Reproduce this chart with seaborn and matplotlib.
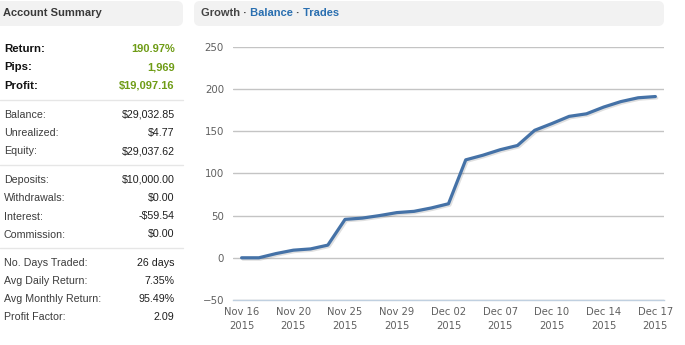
import numpy as np
import pandas as pd
import matplotlib
matplotlib.use("Agg")
import matplotlib.pyplot as plt
import matplotlib.patheffects as pe
from matplotlib.patches import FancyBboxPatch
from matplotlib.lines import Line2D
from matplotlib.transforms import IdentityTransform
import seaborn as sns

# ---- data -------------------------------------------------------------
days = ["Nov 16", "Nov 17", "Nov 19", "Nov 20", "Nov 22", "Nov 23", "Nov 25",
        "Nov 26", "Nov 27", "Nov 29", "Nov 30", "Dec 01", "Dec 02", "Dec 03",
        "Dec 04", "Dec 07", "Dec 08", "Dec 09", "Dec 10", "Dec 11", "Dec 13",
        "Dec 14", "Dec 15", "Dec 16", "Dec 17"]
year = "2015"
growth = [0, 0, 5, 9, 10.5, 15, 45.5, 47, 50, 53.5, 55, 59, 64, 116,
          121.5, 128, 133, 151, 159, 167.5, 170.5, 178.5, 185, 189.5, 190.97]
label_every = 3
y_ticks = [-50, 0, 50, 100, 150, 200, 250]

headline_labels = ["Return:", "Pips:", "Profit:"]
headline_values = ["190.97%", "1,969", "$19,097.16"]
balance_labels = ["Balance:", "Unrealized:", "Equity:"]
balance_values = ["$29,032.85", "$4.77", "$29,037.62"]
cash_labels = ["Deposits:", "Withdrawals:", "Interest:", "Commission:"]
cash_values = ["$10,000.00", "$0.00", "-$59.54", "$0.00"]
stats_labels = ["No. Days Traded:", "Avg Daily Return:", "Avg Monthly Return:", "Profit Factor:"]
stats_values = ["26 days", "7.35%", "95.49%", "2.09"]

df = pd.DataFrame({"day": np.arange(len(growth)), "growth": growth})

# ---- figure -----------------------------------------------------------
W, H = 685, 345
sns.set_style("white")
plt.rcParams["font.family"] = ["DejaVu Sans"]
fig = plt.figure(figsize=(W / 100, H / 100), dpi=100)
fig.patch.set_facecolor("white")
renderer = fig.canvas.get_renderer()
sans = ["Liberation Sans", "DejaVu Sans"]


def fy(py):
    return 1 - py / H


def fx(px):
    return px / W


def header_box(x0, x1, y0, y1):
    box = FancyBboxPatch((x0, H - y1), x1 - x0, y1 - y0,
                         boxstyle="round,pad=0,rounding_size=6",
                         transform=IdentityTransform(),
                         facecolor="#f2f2f2", edgecolor="none", zorder=0)
    fig.add_artist(box)


header_box(-10, 183, 1, 26)
header_box(194, 664, 1, 26)

fig.text(fx(3), fy(13.5), "Account Summary", family=sans, weight="bold",
         fontsize=8, color="#3a3a3a", va="center", ha="left")

# Tab-style header on the chart panel: each piece is right-aligned at the
# measured width of the text up to and including it.
tab_parts = [("Growth \u00b7", "#444444"), (" Balance", "#2a6fb0"),
             (" \u00b7", "#444444"), (" Trades", "#2a6fb0")]
tab_x = 201
prefix = ""
for txt, col in tab_parts:
    prefix += txt
    probe = fig.text(0, 0, prefix, family=sans, weight="bold", fontsize=8)
    width = probe.get_window_extent(renderer).width
    probe.remove()
    fig.text(fx(tab_x + width), fy(13.5), txt, family=sans, weight="bold",
             fontsize=8, color=col, va="center", ha="right")

# Summary rows
label_x, value_x = fx(4), fx(174.5)


def rows(labels, values, ys, bold=False):
    for lab, val, y in zip(labels, values, ys):
        if bold:
            fig.text(label_x, fy(y), lab, family=sans, weight="bold",
                     fontsize=8.2, color="#111111", va="center")
            fig.text(value_x, fy(y), val, family=sans, weight="bold",
                     fontsize=8.0, color="#6f9c16", va="center", ha="right")
        else:
            fig.text(label_x, fy(y), lab, family=sans, fontsize=7.7,
                     color="#3c3c3c", va="center")
            fig.text(value_x, fy(y), val, family=sans, fontsize=7.7,
                     color="#1e1e1e", va="center", ha="right")


rows(headline_labels, headline_values, [49, 67.5, 86], bold=True)
rows(balance_labels, balance_values, [115, 133, 151.5])
rows(cash_labels, cash_values, [180, 198, 216.5, 234.5])
rows(stats_labels, stats_values, [263, 281.5, 299.5, 317.5])

for y in [100, 165, 248]:
    fig.add_artist(Line2D([0, fx(183)], [fy(y), fy(y)], color="#e6e6e6",
                          lw=1, transform=fig.transFigure))

# ---- growth chart -----------------------------------------------------
ax_left, ax_right, ax_top, ax_bottom = 233, 664, 46.7, 300
ax = fig.add_axes([fx(ax_left), fy(ax_bottom), fx(ax_right - ax_left),
                   (ax_bottom - ax_top) / H])
ax.set_facecolor("white")
sns.lineplot(data=df, x="day", y="growth", ax=ax, color="#4572a7", lw=2.3,
             solid_capstyle="round", solid_joinstyle="round", zorder=3,
             path_effects=[pe.SimpleLineShadow(offset=(1, -1),
                                               shadow_color="#000000",
                                               alpha=0.12),
                           pe.Normal()])

ax.set_xlim(-0.5, len(growth) - 0.5)
ax.set_ylim(min(y_ticks), max(y_ticks))
ax.set_yticks(y_ticks)
ax.set_yticklabels([f"{v}".replace("-", "\u2212") for v in y_ticks])
major = list(range(0, len(days), label_every))
ax.set_xticks(major)
ax.set_xticklabels([f"{days[i]}\n{year}" for i in major], linespacing=1.55)
ax.set_xticks(np.arange(-0.5, len(days), 1), minor=True)
ax.set_xlabel("")
ax.set_ylabel("")

ax.grid(axis="y", color="#c4c4c4", lw=1)
ax.grid(axis="x", visible=False)
ax.set_axisbelow(True)
for s in ["top", "right", "left"]:
    ax.spines[s].set_visible(False)
ax.spines["bottom"].set_color("#c0d0e0")
ax.spines["bottom"].set_linewidth(1)
ax.spines["bottom"].set_zorder(4)

ax.tick_params(axis="y", length=0, pad=6.5, labelsize=7.4, labelcolor="#606060")
ax.tick_params(axis="x", which="major", length=0, pad=5, labelsize=7.2,
               labelcolor="#606060")
ax.tick_params(axis="x", which="minor", length=4, width=1, color="#c0d0e0",
               direction="out")

fig.savefig("out.png", dpi=100, facecolor="white")
